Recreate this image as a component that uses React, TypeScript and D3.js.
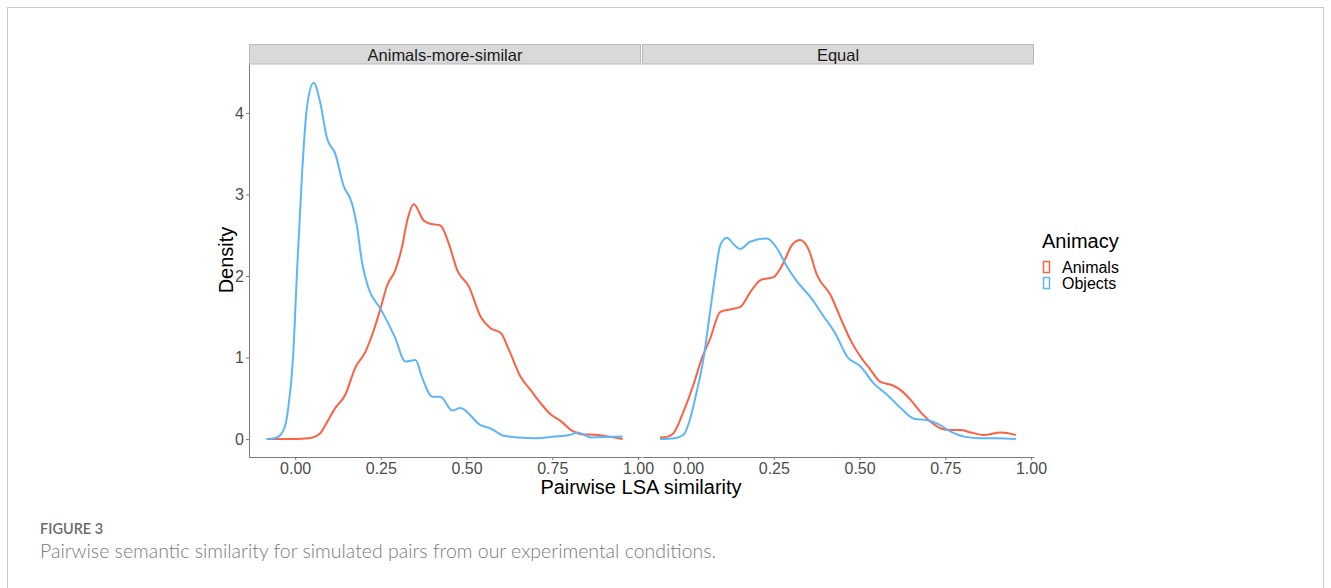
import React, { useEffect, useRef } from 'react';
import * as d3 from 'd3';

// facet panels, legend groups
const panels = ['Animals-more-similar', 'Equal'];
const groups = ['Animals', 'Objects'];
const colors = ['#fb6142', '#5cb6f8'];
const xTicks = [0, 0.25, 0.5, 0.75, 1];
const yTicks = [0, 1, 2, 3, 4];

// density curves: [similarity, density]
const moreSimilarAnimals = [
  [-0.083, 0], [0.0, 0], [0.04, 0.01], [0.058, 0.03], [0.075, 0.08], [0.088, 0.17], [0.117, 0.38],
  [0.146, 0.54], [0.175, 0.87], [0.205, 1.07], [0.224, 1.27], [0.249, 1.6], [0.268, 1.88], [0.292, 2.07],
  [0.312, 2.36], [0.327, 2.68], [0.346, 2.88], [0.375, 2.68], [0.395, 2.64], [0.424, 2.62], [0.448, 2.4],
  [0.473, 2.07], [0.507, 1.87], [0.541, 1.5], [0.57, 1.36], [0.6, 1.3], [0.624, 1.09], [0.658, 0.76],
  [0.687, 0.6], [0.716, 0.44], [0.746, 0.3], [0.775, 0.22], [0.809, 0.1], [0.833, 0.06], [0.882, 0.05],
  [0.955, 0.0],
];
const moreSimilarObjects = [
  [-0.083, 0], [-0.06, 0.01], [-0.045, 0.04], [-0.03, 0.15], [-0.02, 0.38], [-0.006, 1.0], [0.005, 2.0],
  [0.02, 3.24], [0.034, 4.05], [0.054, 4.37], [0.073, 4.13], [0.093, 3.69], [0.117, 3.5], [0.141, 3.11],
  [0.166, 2.89], [0.18, 2.62], [0.195, 2.17], [0.214, 1.85], [0.249, 1.6], [0.29, 1.26], [0.322, 0.95],
  [0.351, 0.97], [0.37, 0.76], [0.4, 0.52], [0.424, 0.52], [0.458, 0.35], [0.482, 0.38], [0.541, 0.17],
  [0.57, 0.13], [0.609, 0.04], [0.65, 0.02], [0.697, 0.01], [0.755, 0.03], [0.8, 0.05], [0.824, 0.08],
  [0.863, 0.02], [0.955, 0.03],
];
const equalAnimals = [
  [-0.082, 0.02], [-0.06, 0.03], [-0.043, 0.07], [-0.014, 0.33], [0.015, 0.66], [0.04, 0.99], [0.064, 1.23],
  [0.094, 1.56], [0.123, 1.59], [0.152, 1.62], [0.181, 1.8], [0.211, 1.95], [0.25, 1.99], [0.279, 2.17],
  [0.303, 2.38], [0.327, 2.44], [0.352, 2.32], [0.376, 2.01], [0.415, 1.77], [0.444, 1.49], [0.474, 1.21],
  [0.503, 1.01], [0.532, 0.85], [0.561, 0.7], [0.596, 0.66], [0.62, 0.6], [0.649, 0.48], [0.678, 0.33],
  [0.708, 0.21], [0.737, 0.13], [0.766, 0.11], [0.795, 0.11], [0.825, 0.08], [0.863, 0.05], [0.912, 0.08],
  [0.956, 0.05],
];
const equalObjects = [
  [-0.082, 0], [-0.04, 0.01], [-0.014, 0.05], [0.006, 0.25], [0.025, 0.58], [0.045, 0.99], [0.064, 1.56],
  [0.079, 2.01], [0.094, 2.38], [0.113, 2.47], [0.135, 2.38], [0.152, 2.33], [0.181, 2.42], [0.23, 2.46],
  [0.259, 2.34], [0.289, 2.11], [0.318, 1.93], [0.357, 1.74], [0.396, 1.5], [0.43, 1.29], [0.464, 1.01],
  [0.503, 0.89], [0.542, 0.68], [0.581, 0.54], [0.62, 0.38], [0.659, 0.25], [0.698, 0.23], [0.727, 0.19],
  [0.766, 0.09], [0.805, 0.03], [0.854, 0.01], [0.9, 0.01], [0.956, 0.0],
];
const panelSeries = [
  [moreSimilarAnimals, moreSimilarObjects],
  [equalAnimals, equalObjects],
];

const FONT = '"Liberation Sans", Arial, sans-serif';
const CAPTION_FONT = 'Lato, "Open Sans", sans-serif';

const App = () => {
  const svgRef = useRef<SVGSVGElement>(null);

  useEffect(() => {
    const svg = d3.select(svgRef.current);
    svg.selectAll('*').remove();

    // figure frame
    svg.append('rect')
      .attr('x', 7.5).attr('y', 7.5)
      .attr('width', 1316).attr('height', 620)
      .attr('fill', 'none').attr('stroke', '#c9c9c9');

    const panelLeft = [249, 642];
    const panelW = 392;
    const top = 64;
    const bottom = 457;

    const y = d3.scaleLinear().domain([-0.22, 4.6]).range([bottom, top]);

    panels.forEach((name, i) => {
      const x0 = panelLeft[i];
      const x = d3.scaleLinear().domain([-0.1345, 1.0088]).range([x0, x0 + panelW]);
      const g = svg.append('g');

      // strip
      g.append('rect')
        .attr('x', x0 + 0.5).attr('y', 44.5)
        .attr('width', panelW - 1).attr('height', 19.5)
        .attr('fill', '#d9d9d9').attr('stroke', '#b8b8b8');
      g.append('text')
        .attr('x', x0 + panelW / 2).attr('y', 60.5)
        .attr('text-anchor', 'middle')
        .attr('font-family', FONT).attr('font-size', 16.5)
        .attr('fill', '#1a1a1a')
        .text(name);

      // x axis
      const xAxis = g.append('g')
        .attr('transform', `translate(0,${bottom})`)
        .call(d3.axisBottom(x).tickValues(xTicks).tickFormat(d3.format('.2f')).tickSize(3).tickSizeOuter(0));
      xAxis.select('.domain').attr('stroke', '#7a7a7a');
      xAxis.selectAll('.tick line').attr('stroke', '#7a7a7a');
      xAxis.selectAll('text')
        .attr('font-family', FONT).attr('font-size', 16)
        .attr('fill', '#4d4d4d').attr('dy', '0.66em');

      // y axis only on first panel
      if (i === 0) {
        const yAxis = g.append('g')
          .attr('transform', `translate(${x0},0)`)
          .call(d3.axisLeft(y).tickValues(yTicks).tickFormat(d3.format('d')).tickSize(3).tickSizeOuter(0));
        yAxis.select('.domain').attr('stroke', '#7a7a7a');
        yAxis.selectAll('.tick line').attr('stroke', '#7a7a7a');
        yAxis.selectAll('text')
          .attr('font-family', FONT).attr('font-size', 16)
          .attr('fill', '#4d4d4d').attr('x', -5);
      }

      const line = d3.line<number[]>()
        .x(d => x(d[0]))
        .y(d => y(d[1]))
        .curve(d3.curveMonotoneX);

      panelSeries[i].forEach((series, k) => {
        g.append('path')
          .datum(series)
          .attr('d', line)
          .attr('fill', 'none')
          .attr('stroke', colors[k])
          .attr('stroke-width', 2);
      });
    });

    // axis titles
    svg.append('text')
      .attr('transform', 'translate(233,260) rotate(-90)')
      .attr('text-anchor', 'middle')
      .attr('font-family', FONT).attr('font-size', 20)
      .attr('fill', '#000')
      .text('Density');
    svg.append('text')
      .attr('x', 641).attr('y', 494)
      .attr('text-anchor', 'middle')
      .attr('font-family', FONT).attr('font-size', 20)
      .attr('fill', '#000')
      .text('Pairwise LSA similarity');

    // legend
    const legend = svg.append('g');
    legend.append('text')
      .attr('x', 1042).attr('y', 248)
      .attr('font-family', FONT).attr('font-size', 20)
      .attr('fill', '#000')
      .text('Animacy');
    groups.forEach((label, k) => {
      legend.append('rect')
        .attr('x', 1043.5).attr('y', 261.5 + k * 16)
        .attr('width', 6).attr('height', 11)
        .attr('fill', 'none').attr('stroke', colors[k]).attr('stroke-width', 1.5);
      legend.append('text')
        .attr('x', 1062).attr('y', 273 + k * 16)
        .attr('font-family', FONT).attr('font-size', 16)
        .attr('fill', '#000')
        .text(label);
    });

    // caption
    svg.append('text')
      .attr('x', 40).attr('y', 534)
      .attr('font-family', CAPTION_FONT).attr('font-size', 14.5)
      .attr('font-weight', 600)
      .attr('fill', '#6b6b6b')
      .text('FIGURE 3');
    svg.append('text')
      .attr('x', 40).attr('y', 558)
      .attr('font-family', CAPTION_FONT).attr('font-size', 19.5)
      .attr('font-weight', 300)
      .attr('fill', '#7a7a7a')
      .text('Pairwise semantic similarity for simulated pairs from our experimental conditions.');
  }, []);

  return (
    <svg
      ref={svgRef}
      width={1331}
      height={588}
      style={{ position: 'absolute', left: 0, top: 0, background: '#fff' }}
    />
  );
};

export default App;
